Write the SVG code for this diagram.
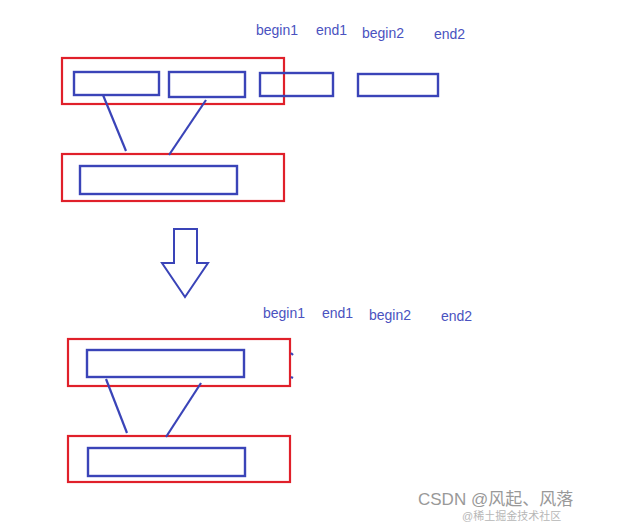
<svg xmlns="http://www.w3.org/2000/svg" width="617" height="524" viewBox="0 0 617 524">
<style>
.r{fill:none;stroke:#e0202a;stroke-width:2.2}
.b{fill:none;stroke:#3a44b8;stroke-width:2.4}
.l{stroke:#3a44b8;stroke-width:2.2}
.t{font-family:"Liberation Sans",Arial,sans-serif;font-size:14px;fill:#4a52c0}
.w{font-family:"Liberation Sans","Noto Sans CJK SC",sans-serif;fill:#999}
</style>
<rect width="617" height="524" fill="#fff"/>
<g id="labels-top">
<text class="t" x="256" y="35">begin1</text><text class="t" x="316" y="35">end1</text>
<text class="t" x="362" y="38">begin2</text><text class="t" x="434" y="39">end2</text>
</g>
<g id="top-group">
<rect class="r" x="62" y="58" width="222" height="46"/>
<rect class="b" x="74" y="72" width="85" height="23"/>
<rect class="b" x="169" y="72" width="76" height="25"/>
<rect class="b" x="260" y="73" width="73" height="23"/>
<rect class="b" x="358" y="74" width="80" height="22"/>
</g>
<g id="top-merged">
<rect class="r" x="62" y="154" width="222" height="47"/>
<rect class="b" x="80" y="166" width="157" height="28"/>
</g>
<g id="arrow">
<polygon points="174,229 197,229 197,263 208,263 185,297 162,263 174,263" fill="none" stroke="#3a44b8" stroke-width="2"/>
</g>
<g id="labels-bottom">
<text class="t" x="263" y="318">begin1</text><text class="t" x="322" y="318">end1</text>
<text class="t" x="369" y="320">begin2</text><text class="t" x="441" y="321">end2</text>
</g>
<g id="bottom-group">
<rect class="r" x="68" y="339" width="222" height="47"/>
<rect class="b" x="87" y="350" width="157" height="27"/>
<line class="l" x1="291" y1="353" x2="293" y2="355"/><line class="l" x1="291" y1="377" x2="293" y2="378"/>
</g>
<g id="bottom-merged">
<rect class="r" x="68" y="436" width="222" height="46"/>
<rect class="b" x="88" y="448" width="157" height="28"/>
</g>
<g id="connectors">
<line class="l" x1="103" y1="95" x2="126" y2="151"/>
<line class="l" x1="206" y1="100" x2="169" y2="155"/>
<line class="l" x1="106" y1="379" x2="127" y2="433"/>
<line class="l" x1="201" y1="383" x2="166" y2="437"/>
</g>
<text class="w" x="418" y="505" font-size="17">CSDN @风起、风落</text>
<text class="w" x="462" y="520" font-size="11" opacity="0.7">@稀土掘金技术社区</text>
</svg>
